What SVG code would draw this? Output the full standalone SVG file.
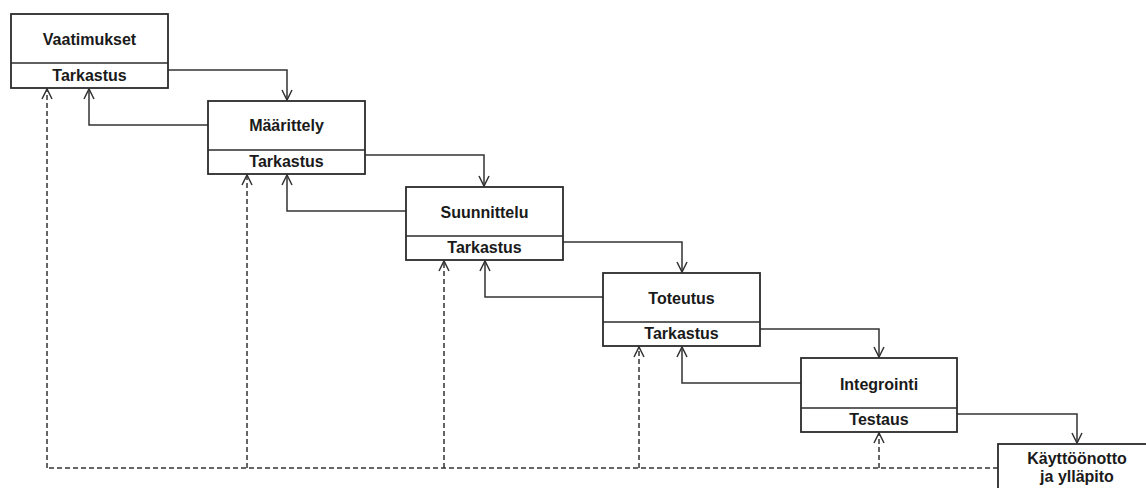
<svg xmlns="http://www.w3.org/2000/svg" width="1146" height="488" viewBox="0 0 1146 488">
  <style>
    .box { fill: #ffffff; stroke: #2b2b2b; stroke-width: 1.8; }
    .div { stroke: #2b2b2b; stroke-width: 1.6; }
    .t { font-family: "Liberation Sans", Arial, sans-serif; font-weight: bold; font-size: 16px; fill: #1a1a1a; text-anchor: middle; }
    .flow { fill: none; stroke: #333333; stroke-width: 1.5; marker-end: url(#arrow); }
    .dash { fill: none; stroke: #333333; stroke-width: 1.5; stroke-dasharray: 5 3; }
    .dasharrow { fill: none; stroke: #333333; stroke-width: 1.5; stroke-dasharray: 5 3; marker-end: url(#arrow); }
  </style>
  <defs>
    <!-- open V arrowhead, tip at the path end -->
    <marker id="arrow" markerUnits="userSpaceOnUse" markerWidth="16" markerHeight="16" viewBox="-13 -8 16 16" refX="0" refY="0" orient="auto">
      <path d="M-10,-5 L0,0 L-10,5" fill="none" stroke="#333333" stroke-width="1.5"/>
    </marker>
  </defs>
  <rect width="1146" height="488" fill="#ffffff"/>

  <!-- connectors -->
  <g id="connectors">
    <!-- forward flow -->
    <path class="flow" d="M168,70 H287 V100"/>
    <path class="flow" d="M365,155 H484 V186"/>
    <path class="flow" d="M563,242 H682 V272"/>
    <path class="flow" d="M760,329 H879 V357"/>
    <path class="flow" d="M957,414 H1077 V443"/>
    <!-- return to previous stage -->
    <path class="flow" d="M208,125 H89 V89"/>
    <path class="flow" d="M406,211 H287 V175"/>
    <path class="flow" d="M603,297 H485 V261"/>
    <path class="flow" d="M801,383 H682 V347"/>
    <!-- feedback from maintenance -->
    <path class="dash" d="M998,468 H47"/>
    <path class="dasharrow" d="M47,468 V89"/>
    <path class="dasharrow" d="M247,468 V175"/>
    <path class="dasharrow" d="M444,468 V261"/>
    <path class="dasharrow" d="M639,468 V347"/>
    <path class="dasharrow" d="M879,468 V433"/>
  </g>

  <g id="vaatimukset">
    <rect class="box" x="11" y="14" width="157" height="74"/>
    <line class="div" x1="11" y1="63" x2="168" y2="63"/>
    <text class="t" x="89.5" y="45">Vaatimukset</text>
    <text class="t" x="89.5" y="81">Tarkastus</text>
  </g>

  <g id="maarittely">
    <rect class="box" x="208" y="101" width="157" height="73"/>
    <line class="div" x1="208" y1="150" x2="365" y2="150"/>
    <text class="t" x="286.5" y="131">Määrittely</text>
    <text class="t" x="286.5" y="167">Tarkastus</text>
  </g>

  <g id="suunnittelu">
    <rect class="box" x="406" y="187" width="157" height="73"/>
    <line class="div" x1="406" y1="236" x2="563" y2="236"/>
    <text class="t" x="484.5" y="218">Suunnittelu</text>
    <text class="t" x="484.5" y="253">Tarkastus</text>
  </g>

  <g id="toteutus">
    <rect class="box" x="603" y="273" width="157" height="73"/>
    <line class="div" x1="603" y1="322" x2="760" y2="322"/>
    <text class="t" x="681.5" y="304">Toteutus</text>
    <text class="t" x="681.5" y="339">Tarkastus</text>
  </g>

  <g id="integrointi">
    <rect class="box" x="801" y="358" width="156" height="74"/>
    <line class="div" x1="801" y1="408" x2="957" y2="408"/>
    <text class="t" x="879" y="390">Integrointi</text>
    <text class="t" x="879" y="425">Testaus</text>
  </g>

  <g id="kayttoonotto">
    <rect class="box" x="998" y="444" width="160" height="60"/>
    <text class="t" x="1077" y="464">Käyttöönotto</text>
    <text class="t" x="1077" y="482">ja ylläpito</text>
  </g>
</svg>
